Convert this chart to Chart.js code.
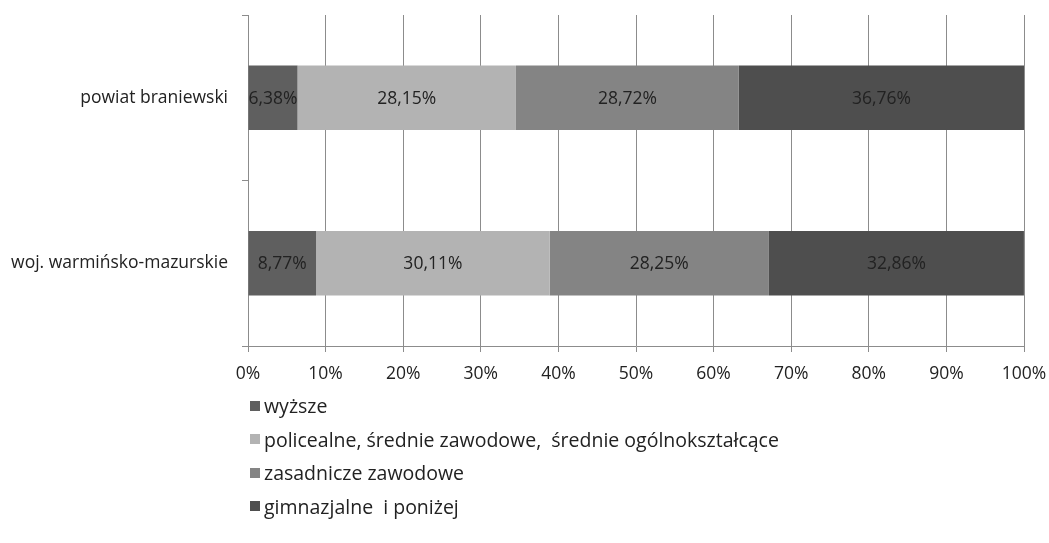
<!DOCTYPE html>
<html>
<head>
<meta charset="utf-8">
<script src="https://cdn.jsdelivr.net/npm/chart.js@4"></script>
<style>
  body { margin: 0; background: #fff; font-family: "Open Sans", sans-serif; }
  #wrap { position: relative; width: 1049px; height: 543px; }
  #legend { position: absolute; left: 250px; top: 389px; color: #222; font-size: 19.5px; }
  .item { height: 33.5px; display: flex; align-items: center; }
  .box { width: 10px; height: 10px; margin-right: 4px; }
</style>
</head>
<body>
<div id="wrap">
  <canvas id="chart" width="1049" height="397"></canvas>
  <div id="legend"></div>
</div>
<script>
// kategorie i serie
const regions = ["powiat braniewski", "woj. warmińsko-mazurskie"];
const seriesNames = [
  "wyższe",
  "policealne, średnie zawodowe,  średnie ogólnokształcące",
  "zasadnicze zawodowe",
  "gimnazjalne  i poniżej",
];
const wyzsze = [6.38, 8.77];
const policealne = [28.15, 30.11];
const zasadnicze = [28.72, 28.25];
const gimnazjalne = [36.76, 32.86];
const colors = ["#5f5f5f", "#b3b3b3", "#848484", "#4e4e4e"];

// etykiety z wartościami w środku słupków
const valueLabels = {
  id: "valueLabels",
  afterDatasetsDraw(chart) {
    const ctx = chart.ctx;
    ctx.save();
    ctx.font = "17.5px 'Open Sans'";
    ctx.fillStyle = "#222";
    ctx.textAlign = "center";
    ctx.textBaseline = "middle";
    chart.data.datasets.forEach((ds, i) => {
      chart.getDatasetMeta(i).data.forEach((bar, j) => {
        const p = bar.getProps(["x", "y", "base"], true);
        const text = ds.data[j].toFixed(2).replace(".", ",") + "%";
        ctx.fillText(text, (p.x + p.base) / 2, p.y + 1);
      });
    });
    ctx.restore();
  },
};

const chart = new Chart(document.getElementById("chart"), {
  type: "bar",
  data: {
    labels: regions,
    datasets: [wyzsze, policealne, zasadnicze, gimnazjalne].map((data, i) => ({
      label: seriesNames[i],
      data: data,
      backgroundColor: colors[i],
      borderWidth: 0,
      categoryPercentage: 1,
      barPercentage: 0.39,
    })),
  },
  options: {
    indexAxis: "y",
    responsive: false,
    animation: false,
    layout: { padding: { top: 15, right: 25, left: 0, bottom: 0 } },
    plugins: {
      legend: { display: false },
      tooltip: { enabled: false },
    },
    scales: {
      x: {
        stacked: true,
        min: 0,
        max: 100,
        afterFit: (scale) => {
          scale.paddingLeft = 0;
          scale.paddingRight = 0;
        },
        ticks: {
          stepSize: 10,
          color: "#222",
          font: { family: "Open Sans", size: 17.5 },
          padding: 12,
          callback: (v) => v + "%",
        },
        grid: { color: "#8c8c8c", tickLength: 6, lineWidth: 1 },
        border: { color: "#8c8c8c" },
      },
      y: {
        stacked: true,
        afterFit: (scale) => {
          scale.width = 248;
          scale.paddingTop = 0;
          scale.paddingBottom = 0;
        },
        ticks: {
          color: "#222",
          font: { family: "Open Sans", size: 17.5 },
          padding: 14,
        },
        grid: { drawOnChartArea: false, color: "#8c8c8c", tickLength: 6 },
        border: { color: "#8c8c8c" },
      },
    },
  },
  plugins: [valueLabels],
});

const legend = document.getElementById("legend");
chart.data.datasets.forEach((ds) => {
  const item = document.createElement("div");
  item.className = "item";
  const box = document.createElement("span");
  box.className = "box";
  box.style.background = ds.backgroundColor;
  const label = document.createElement("span");
  label.textContent = ds.label;
  label.style.whiteSpace = "pre";
  item.appendChild(box);
  item.appendChild(label);
  legend.appendChild(item);
});
</script>
</body>
</html>
